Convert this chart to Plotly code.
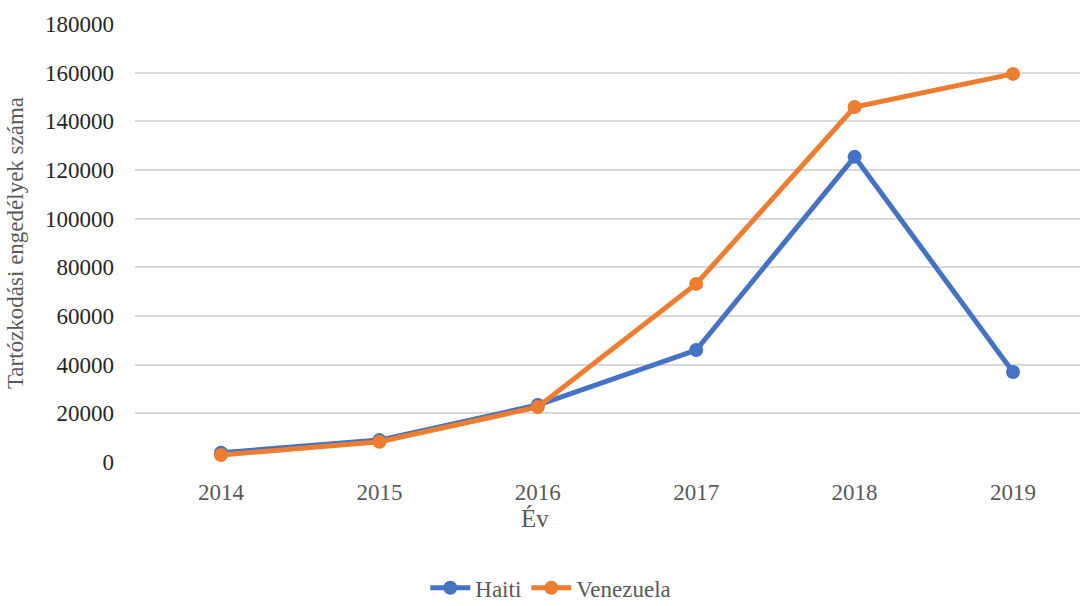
import plotly.graph_objects as go

years = ["2014", "2015", "2016", "2017", "2018", "2019"]
haiti = [3800, 9000, 23400, 46000, 125400, 37000]
venezuela = [2900, 8300, 22600, 73200, 145900, 159500]
y_ticks = [0, 20000, 40000, 60000, 80000, 100000, 120000, 140000, 160000, 180000]

FONT = "Liberation Serif"
GREY = "#595959"

fig = go.Figure()
fig.add_trace(go.Scatter(
    x=years, y=haiti, name="Haiti", mode="lines+markers",
    line=dict(color="#4472C4", width=5),
    marker=dict(color="#4472C4", size=14),
    cliponaxis=False,
))
fig.add_trace(go.Scatter(
    x=years, y=venezuela, name="Venezuela", mode="lines+markers",
    line=dict(color="#ED7D31", width=5),
    marker=dict(color="#ED7D31", size=14),
    cliponaxis=False,
))

fig.update_layout(
    width=1080, height=606,
    margin=dict(l=135, r=0, t=24, b=144, autoexpand=False),
    paper_bgcolor="white", plot_bgcolor="white",
    font=dict(family=FONT, size=23, color=GREY),
    showlegend=True,
    legend=dict(
        orientation="h", xref="container", yref="container",
        x=0.51, xanchor="center", y=0.03, yanchor="middle",
        font=dict(family=FONT, size=23, color=GREY),
        itemwidth=40, tracegroupgap=0,
    ),
    xaxis=dict(
        type="category", range=[-0.543, 5.423],
        showgrid=False, zeroline=False, showline=False,
        ticks="", ticklabelstandoff=14,
        tickfont=dict(family=FONT, size=23, color=GREY),
    ),
    yaxis=dict(
        range=[0, 180000], tickvals=y_ticks, ticktext=[str(v) for v in y_ticks],
        showgrid=True, gridcolor="#D9D9D9", gridwidth=2,
        zeroline=False, showline=False, ticks="", ticklabelstandoff=20,
        tickfont=dict(family=FONT, size=23, color="#262626"),
        title=dict(text="Tartózkodási engedélyek száma",
                   font=dict(family=FONT, size=23, color=GREY), standoff=14),
    ),
    annotations=[
        dict(text="Év", xref="paper", yref="paper", x=(535 - 135) / 945, y=-0.128,
             xanchor="center", yanchor="middle", showarrow=False,
             font=dict(family=FONT, size=25, color=GREY)),
    ],
)

fig.write_html("out.html")
